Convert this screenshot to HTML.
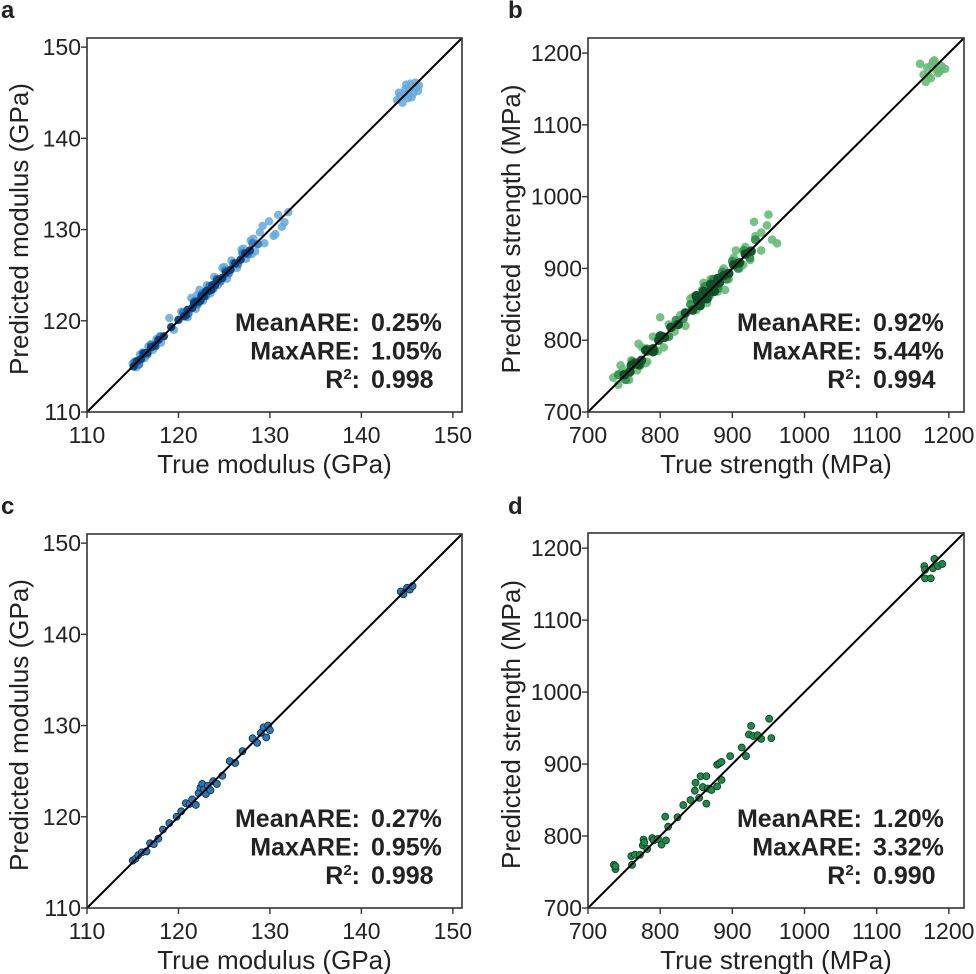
<!DOCTYPE html>
<html><head><meta charset="utf-8"><style>
body{margin:0;background:#fff;width:976px;height:974px;overflow:hidden}
svg{display:block}
text{font-family:"Liberation Sans",Arial,sans-serif;fill:#222}
</style></head><body>
<svg id="fig" width="976" height="974" xmlns="http://www.w3.org/2000/svg"></svg>
<script>
// ---- data ----
const aLightTrue=[115.0,115.4,115.8,116.3,116.7,117.2,117.6,118.1,119.0,119.5,120.3,120.9,121.4,121.9,122.3,122.7,123.1,123.5,123.9,124.3,124.8,125.3,125.8,126.4,126.9,127.4,127.9,128.4,128.9,129.4,129.9,130.4,130.9,131.3,132.0,128.2,127.1,125.0,122.0,121.0,144.2,144.5,144.8,145.1,145.4,145.7,146.0,146.3,144.9,145.5,145.2,144.6,143.9,144.1,145.9,146.2,130.6,131.6,129.2,128.0];
const aLightPred=[115.3,114.9,116.3,115.9,117.2,116.8,118.0,117.6,120.3,119.0,121.0,120.4,122.5,121.3,123.4,122.2,123.9,123.0,124.8,123.9,125.8,124.6,126.6,125.8,127.8,126.8,128.8,127.6,129.7,128.5,130.9,129.3,131.6,130.3,131.9,129.0,127.9,125.9,122.8,120.4,144.6,143.9,145.4,144.4,146.0,145.0,145.6,145.8,145.9,144.5,145.3,144.7,144.2,145.0,146.1,145.2,129.5,130.8,130.4,127.3];
const aMidTrue=[115.2,115.7,116.1,116.6,117.0,117.5,118.0,120.5,121.1,121.7,122.1,122.6,123.0,123.4,123.8,124.2,124.6,125.1,125.5,126.0,126.5,127.0,127.6,128.1,128.7];
const aMidPred=[115.5,115.2,116.5,116.3,117.4,117.2,118.3,120.9,120.8,122.1,121.8,123.0,122.7,123.8,123.5,124.6,124.3,125.5,125.2,126.3,126.2,127.4,127.3,128.5,128.4];
const aDarkTrue=[115.1,115.5,115.9,116.2,116.6,117.0,117.4,117.8,118.4,119.2,120.0,120.6,121.0,121.5,121.9,122.2,122.5,122.8,123.1,123.4,123.7,124.0,124.4,124.8,125.2,125.7,126.2,126.8,127.3,127.8,120.8,121.7,122.4,123.0,123.6,124.2];
const aDarkPred=[115.0,115.6,115.8,116.4,116.5,117.1,117.3,117.9,118.3,119.3,120.1,120.5,121.2,121.4,122.1,122.1,122.7,122.7,123.3,123.3,123.9,123.9,124.5,124.7,125.3,125.6,126.3,126.7,127.4,127.7,120.6,121.9,122.2,123.2,123.4,124.4];
const bLightTrue=[735,742,748,755,760,768,775,782,790,797,805,812,820,828,835,842,850,858,865,872,880,888,895,902,910,918,925,932,940,948,955,962,745,770,800,845,870,905,930,950,1160,1165,1170,1175,1180,1185,1190,1195,1168,1178,1188,1172,1183,1176,757,780,860,890,915,940];
const bLightPred=[748,738,760,745,772,758,790,770,805,785,790,822,812,835,820,858,842,870,852,885,868,900,885,915,900,930,912,945,925,960,940,935,765,795,832,860,885,925,965,975,1185,1170,1180,1165,1190,1172,1182,1178,1160,1188,1175,1168,1176,1183,745,768,880,870,905,950];
const bMidTrue=[742,752,762,772,782,792,802,812,822,832,842,850,856,862,868,874,880,886,892,900,908,916,924,932];
const bMidPred=[752,745,770,765,788,785,806,805,828,830,850,860,848,875,862,885,872,895,885,910,900,925,915,940];
const bDarkTrue=[750,758,766,774,782,790,798,806,815,825,835,845,852,858,864,870,876,882,888,895,902,910,918,926,760,780,800,850,860,870,880,770,790,855,865,875];
const bDarkPred=[752,756,768,772,785,788,800,804,818,822,838,842,855,856,866,868,878,880,890,893,905,908,920,924,765,786,806,862,868,878,886,766,784,848,858,868];
const cTrue=[115.0,115.3,115.6,116.0,116.5,116.9,117.3,117.8,118.3,119.0,119.8,120.3,120.8,121.2,121.5,121.9,122.2,122.4,122.6,122.8,123.0,123.2,123.5,123.8,124.2,124.8,125.6,126.2,127.0,128.1,128.6,129.0,129.3,129.6,129.8,130.0,144.3,144.6,145.0,145.3,145.6];
const cPred=[115.2,115.4,115.8,116.1,116.2,117.1,117.0,117.6,118.6,119.3,120.0,120.6,121.5,121.4,121.9,121.3,122.6,123.2,123.6,123.0,122.5,123.4,122.9,123.9,123.6,124.5,126.1,125.9,127.2,128.6,128.1,129.2,129.8,128.7,130.0,129.5,144.7,144.4,145.1,144.9,145.3];
const dTrue=[736,738,738,760,761,765,772,776,777,778,782,789,791,797,802,808,807,811,824,832,842,849,856,864,848,854,859,866,864,871,879,879,882,885,885,897,913,919,923,926,929,935,940,951,954,1166,1167,1167,1175,1180,1178,1185,1191];
const dPred=[760,754,758,772,760,774,774,787,795,791,782,797,794,796,788,794,827,813,826,843,850,874,883,883,863,853,868,866,845,864,869,899,901,878,903,911,923,911,941,953,939,940,935,963,936,1175,1170,1158,1158,1185,1172,1175,1178];
const modTicks=[110,120,130,140,150];
const strTicks=[700,800,900,1000,1100,1200];
const statsA=["0.25%","1.05%","0.998"],statsB=["0.92%","5.44%","0.994"],statsC=["0.27%","0.95%","0.998"],statsD=["1.20%","3.32%","0.990"];

const NS="http://www.w3.org/2000/svg";
const svg=document.getElementById('fig');
function mk(tag,attrs,parent){const e=document.createElementNS(NS,tag);for(const k in attrs)e.setAttribute(k,attrs[k]);(parent||svg).appendChild(e);return e;}

function panel(o){
  const g=mk('g',{});
  
  
  const sx=v=>o.x0+(v-o.min)/(o.max-o.min)*o.w;
  const sy=v=>o.y0+o.h-(v-o.min)/(o.max-o.min)*o.h;
  const lt=mk('text',{x:o.lx,y:o.ly,'font-size':24,'font-weight':'bold',fill:'#111'},g);lt.textContent=o.letter;
  
  o.series.forEach(s=>{
    const sg=mk('g',{},g);
    
    for(let i=0;i<s.t.length;i++){
      const c=mk('circle',{cx:sx(s.t[i]),cy:sy(s.p[i]),r:s.r,fill:s.fill,'fill-opacity':s.op||1,stroke:s.stroke||'none','stroke-width':0.8},sg);
      
    }
  });
  const dl=mk('line',{x1:sx(o.min),y1:sy(o.min),x2:sx(o.max),y2:sy(o.max),stroke:'#000','stroke-width':2},g);
  
  const fr=mk('rect',{x:o.x0,y:o.y0,width:o.w,height:o.h,fill:'none',stroke:'#333','stroke-width':1.6},g);
  
  o.ticks.forEach(t=>{
    mk('line',{x1:sx(t),y1:o.y0+o.h,x2:sx(t),y2:o.y0+o.h+6,stroke:'#333','stroke-width':1.4},g);
    const xt=mk('text',{x:sx(t),y:o.y0+o.h+31,'font-size':23,'text-anchor':'middle'},g);xt.textContent=t;
    
    mk('line',{x1:o.x0-6,y1:sy(t),x2:o.x0,y2:sy(t),stroke:'#333','stroke-width':1.4},g);
    const yt=mk('text',{x:o.x0-6,y:sy(t)+8,'font-size':23,'text-anchor':'end'},g);yt.textContent=t;
    
  });
  const xl=mk('text',{x:o.x0+o.w/2,y:o.y0+o.h+61,'font-size':26,'text-anchor':'middle'},g);xl.textContent=o.xlab;
  
  const cy=o.y0+o.h/2+4;
  const yl=mk('text',{x:o.ylx,y:cy,'font-size':26,'text-anchor':'middle',transform:`rotate(-90 ${o.ylx} ${cy})`},g);yl.textContent=o.ylab;
  
  const lab=["MeanARE:","MaxARE:","R"];
  const kx=o.x0+o.w-102, vx=kx+11;
  for(let i=0;i<3;i++){
    const yy=o.y0+o.h-81+i*28.5;
    const k=mk('text',{x:kx,y:yy,'font-size':25,'font-weight':'bold','text-anchor':'end',fill:'#222'},g);
    if(i<2)k.textContent=lab[i];else{k.textContent='R';const s=mk('tspan',{dy:-9,'font-size':15},k);s.textContent='2';const s2=mk('tspan',{dy:9},k);s2.textContent=':';}
    
    const v=mk('text',{x:vx,y:yy,'font-size':25,'font-weight':'bold','text-anchor':'start',fill:'#222'},g);v.textContent=o.stats[i];
    
  }
}
panel({letter:'a',lx:1,ly:18,x0:87,y0:38,w:375,h:374,min:110,max:151,ticks:modTicks,xlab:'True modulus (GPa)',ylab:'Predicted modulus (GPa)',ylx:28,stats:statsA,
  series:[{name:'series-light',t:aLightTrue,p:aLightPred,r:4.2,fill:'#62a9dc',op:0.85},{name:'series-mid',t:aMidTrue,p:aMidPred,r:4.2,fill:'#2f7cc0',op:0.9},{name:'series-dark',t:aDarkTrue,p:aDarkPred,r:4.2,fill:'#0b3f7e',op:0.95}]});
panel({letter:'b',lx:508,ly:18,x0:588,y0:38,w:376,h:374,min:700,max:1221,ticks:strTicks,xlab:'True strength (MPa)',ylab:'Predicted strength (MPa)',ylx:520,stats:statsB,
  series:[{name:'series-light',t:bLightTrue,p:bLightPred,r:4.3,fill:'#66bb75',op:0.9},{name:'series-mid',t:bMidTrue,p:bMidPred,r:4.5,fill:'#2e8b48',op:0.9},{name:'series-dark',t:bDarkTrue,p:bDarkPred,r:4.8,fill:'#0d4f25',op:0.95}]});
panel({letter:'c',lx:1,ly:514,x0:87,y0:534,w:375,h:374,min:110,max:151,ticks:modTicks,xlab:'True modulus (GPa)',ylab:'Predicted modulus (GPa)',ylx:28,stats:statsC,
  series:[{name:'series-test',t:cTrue,p:cPred,r:3.5,fill:'#2a78b8',stroke:'#0c2a48'}]});
panel({letter:'d',lx:508,ly:514,x0:588,y0:533,w:376,h:375,min:700,max:1221,ticks:strTicks,xlab:'True strength (MPa)',ylab:'Predicted strength (MPa)',ylx:520,stats:statsD,
  series:[{name:'series-test',t:dTrue,p:dPred,r:3.5,fill:'#1e8a4a',stroke:'#0a3a1c'}]});
</script>
</body></html>
